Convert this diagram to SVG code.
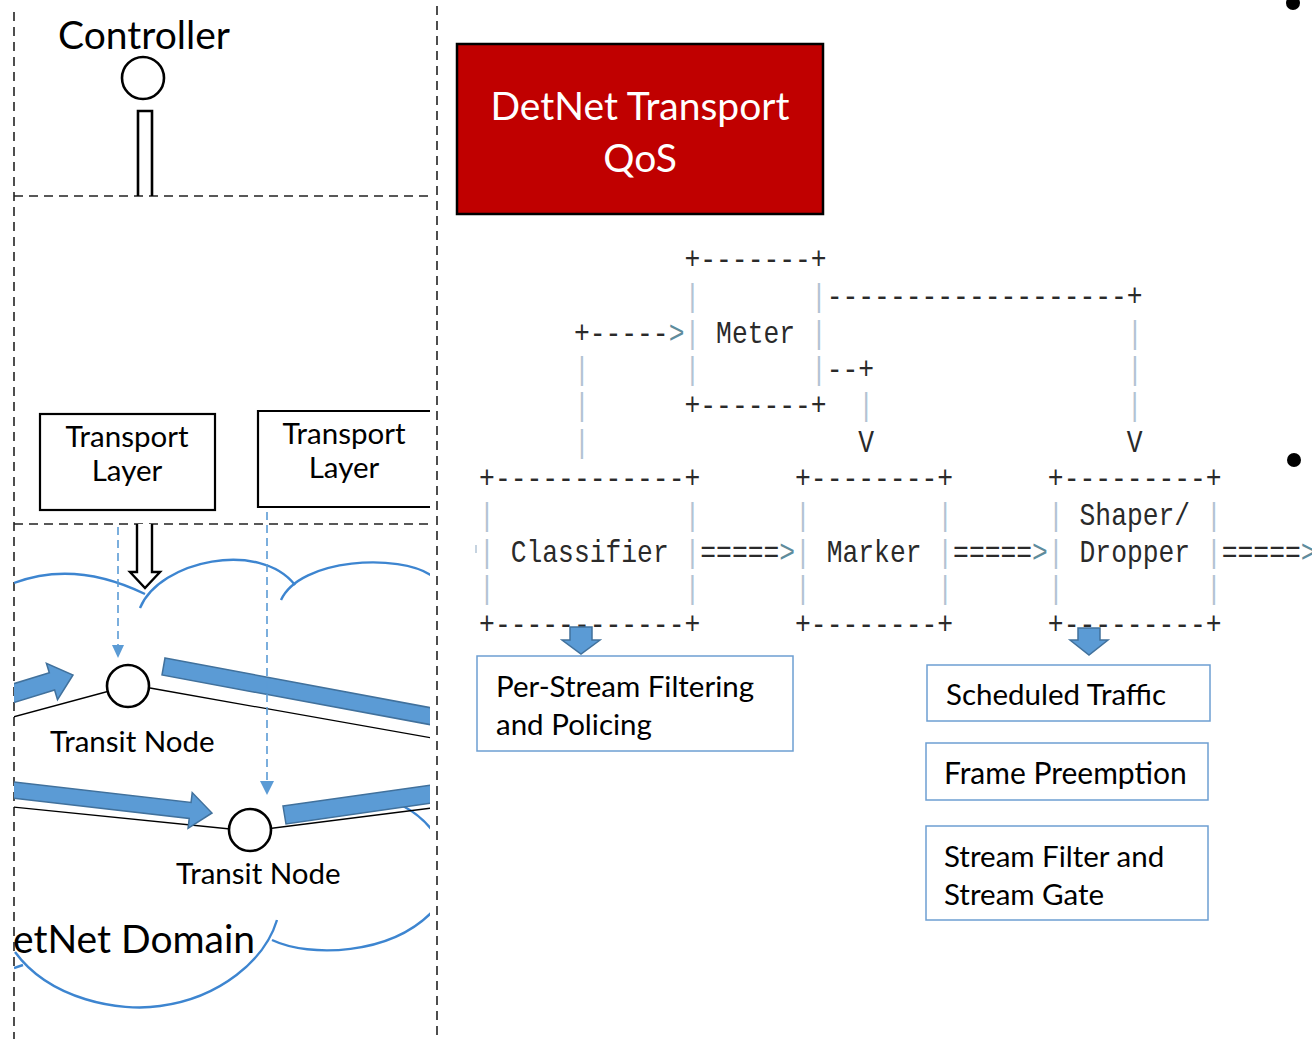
<svg xmlns="http://www.w3.org/2000/svg" width="1312" height="1039" viewBox="0 0 1312 1039">
  <style>
    .lbl { font-family: Lato, "Open Sans", "Liberation Sans", sans-serif; fill: #000; }
    .frame { fill: none; stroke: #222; stroke-width: 1.6; stroke-dasharray: 9 6; }
    .cloud { fill: none; stroke: #3d85d0; stroke-width: 2.4; }
    .box { fill: #fff; stroke: #000; stroke-width: 2.2; }
    .flow { fill: #5b9bd5; stroke: #41719c; stroke-width: 1.5; }
    .link { fill: none; stroke: #000; stroke-width: 1.3; }
    .node { fill: #fff; stroke: #000; stroke-width: 2.6; }
    .ctl { fill: none; stroke: #5b9bd5; stroke-width: 1.6; stroke-dasharray: 8 5; }
    .ascii { font-family: "Liberation Mono", "DejaVu Sans Mono", monospace; font-size: 32px; fill: #2a2a2a; white-space: pre; }
    .p { fill: #b3c3d3; }
    .g { fill: #5f8c9c; }
    .fn { fill: #fff; stroke: #6d9fd2; stroke-width: 1.5; }
  </style>
  <defs>
    <clipPath id="panel">
      <rect x="14" y="0" width="416" height="1039"/>
    </clipPath>
  </defs>

  <rect width="1312" height="1039" fill="#fff"/>

  <!-- left panel frame -->
  <g id="frame">
    <line class="frame" x1="14" y1="12" x2="14" y2="1039"/>
    <line class="frame" x1="437" y1="6" x2="437" y2="1039"/>
    <line class="frame" x1="14" y1="196" x2="430" y2="196"/>
    <line class="frame" x1="14" y1="524" x2="430" y2="524"/>
  </g>

  <g id="controller">
    <text class="lbl" x="58" y="49" font-size="39">Controller</text>
    <circle cx="143" cy="78" r="21" fill="#fff" stroke="#000" stroke-width="2.6"/>
    <path d="M138 196 V111 H152 V196" fill="none" stroke="#000" stroke-width="2.6"/>
  </g>

  <g id="transport-layer-1">
    <rect class="box" x="40" y="414" width="175" height="96"/>
    <text class="lbl" x="127" y="447" font-size="29.5" text-anchor="middle">Transport</text>
    <text class="lbl" x="127" y="481" font-size="29.5" text-anchor="middle">Layer</text>
  </g>

  <g id="transport-layer-2">
    <path class="box" d="M430 411 H258 V507 H430" fill="none"/>
    <text class="lbl" x="344" y="444" font-size="29.5" text-anchor="middle">Transport</text>
    <text class="lbl" x="344" y="478" font-size="29.5" text-anchor="middle">Layer</text>
  </g>

  <!-- DetNet domain cloud -->
  <g id="domain" clip-path="url(#panel)">
    <path class="cloud" d="M14 583 Q75 560 145 594"/>
    <path class="cloud" d="M140 608 C160 560 260 540 295 585"/>
    <path class="cloud" d="M281 600 C300 558 400 553 432 576"/>
    <path class="cloud" d="M14 968 L23 965"/>
    <path class="cloud" d="M15 952 C50 1000 120 1012 160 1006 C220 998 265 960 277 920"/>
    <path class="cloud" d="M272 940 C310 958 390 955 432 912"/>
    <path class="cloud" d="M403 806 Q420 815 432 830"/>
    <text class="lbl" x="13" y="953" font-size="39">etNet Domain</text>
  </g>

  <!-- flows and links -->
  <g id="connectors" clip-path="url(#panel)">
    <path class="link" d="M13 717 L128 686"/>
    <path class="link" d="M150 688 L432 738"/>
    <path class="link" d="M13 807 L250 831"/>
    <path class="link" d="M250 831 L432 808"/>
    <polygon class="flow" transform="translate(73,675) rotate(-17)" points="-90,-9 -22,-9 -22,-19 0,0 -22,19 -22,9 -90,9"/>
    <polygon class="flow" points="165,658 432,708 432,725 162,675"/>
    <polygon class="flow" transform="translate(212,813) rotate(6.6)" points="-220,-8 -22,-8 -22,-18 0,0 -22,18 -22,8 -220,8"/>
    <polygon class="flow" points="283,806 432,785 432,803 286,824"/>
    <path class="ctl" d="M118 527 V646"/>
    <polygon points="112,645 124,645 118,658" fill="#5b9bd5"/>
    <path class="ctl" d="M267 512 V782"/>
    <polygon points="260,781 274,781 267,795" fill="#5b9bd5"/>
    <path d="M137 524 V572 H130 L145 588 L160 572 H152 V524" fill="#fff" stroke="#000" stroke-width="2.4"/>
  </g>

  <g id="transit-node-1">
    <circle class="node" cx="128" cy="686" r="21"/>
    <text class="lbl" x="50" y="752" font-size="29.5">Transit Node</text>
  </g>

  <g id="transit-node-2">
    <circle class="node" cx="250" cy="830" r="21"/>
    <text class="lbl" x="176" y="884" font-size="29.5">Transit Node</text>
  </g>

  <g id="title">
    <rect x="457" y="44" width="366" height="170" fill="#c00000" stroke="#000" stroke-width="2.5"/>
    <text class="lbl" x="640" y="120" font-size="39" text-anchor="middle" style="fill:#fff">DetNet Transport</text>
    <text class="lbl" x="640" y="172" font-size="39" text-anchor="middle" style="fill:#fff">QoS</text>
  </g>

  <!-- text-art pipeline: monospace grid, 15.8px columns -->
  <g id="pipeline" transform="scale(0.8229,1)">
    <text class="ascii" x="831.8" y="269">+-------+</text>
    <text class="ascii" x="831.8" y="306"><tspan class="p">|</tspan>       <tspan class="p">|</tspan>-------------------+</text>
    <text class="ascii" x="697.4" y="343">+-----<tspan class="g">&gt;</tspan><tspan class="p">|</tspan> Meter <tspan class="p">|</tspan>                   <tspan class="p">|</tspan></text>
    <text class="ascii" x="697.4" y="379"><tspan class="p">|</tspan>      <tspan class="p">|</tspan>       <tspan class="p">|</tspan>--+                <tspan class="p">|</tspan></text>
    <text class="ascii" x="697.4" y="415"><tspan class="p">|</tspan>      +-------+  <tspan class="p">|</tspan>                <tspan class="p">|</tspan></text>
    <text class="ascii" x="697.4" y="452"><tspan class="p">|</tspan>                 V                V</text>
    <text class="ascii" x="582.2" y="488">+------------+      +--------+      +---------+</text>
    <text class="ascii" x="582.2" y="525"><tspan class="p">|</tspan>            <tspan class="p">|</tspan>      <tspan class="p">|</tspan>        <tspan class="p">|</tspan>      <tspan class="p">|</tspan> Shaper/ <tspan class="p">|</tspan></text>
    <text class="ascii" x="582.2" y="562"><tspan class="p">|</tspan> Classifier <tspan class="p">|</tspan>=====<tspan class="g">&gt;</tspan><tspan class="p">|</tspan> Marker <tspan class="p">|</tspan>=====<tspan class="g">&gt;</tspan><tspan class="p">|</tspan> Dropper <tspan class="p">|</tspan>=====<tspan class="g">&gt;</tspan></text>
    <text class="ascii" x="582.2" y="598"><tspan class="p">|</tspan>            <tspan class="p">|</tspan>      <tspan class="p">|</tspan>        <tspan class="p">|</tspan>      <tspan class="p">|</tspan>         <tspan class="p">|</tspan></text>
    <text class="ascii" x="582.2" y="634">+------------+      +--------+      +---------+</text>
  </g>
  <line x1="476" y1="545" x2="476" y2="553" stroke="#9fb6cc" stroke-width="1.2"/>

  <g id="block-arrows">
    <path class="flow" d="M570 627 H592 V640 H600 L581 654 L562 640 H570 Z"/>
    <path class="flow" d="M1078 628 H1100 V640 H1108 L1089 655 L1070 640 H1078 Z"/>
  </g>

  <g id="per-stream">
    <rect class="fn" x="477" y="656" width="316" height="95"/>
    <text class="lbl" x="496" y="697" font-size="29.5">Per-Stream Filtering</text>
    <text class="lbl" x="496" y="735" font-size="29.5">and Policing</text>
  </g>

  <g id="scheduled-traffic">
    <rect class="fn" x="927" y="665" width="283" height="56"/>
    <text class="lbl" x="946" y="705" font-size="29.5">Scheduled Traffic</text>
  </g>

  <g id="frame-preemption">
    <rect class="fn" x="926" y="743" width="282" height="57"/>
    <text class="lbl" x="944" y="784" font-size="30">Frame Preemption</text>
  </g>

  <g id="stream-filter">
    <rect class="fn" x="926" y="826" width="282" height="94"/>
    <text class="lbl" x="944" y="867" font-size="29.5">Stream Filter and</text>
    <text class="lbl" x="944" y="905" font-size="29.5">Stream Gate</text>
  </g>

  <g id="bullets">
    <circle cx="1293" cy="3" r="7" fill="#000"/>
    <circle cx="1294" cy="460" r="7" fill="#000"/>
  </g>
</svg>
